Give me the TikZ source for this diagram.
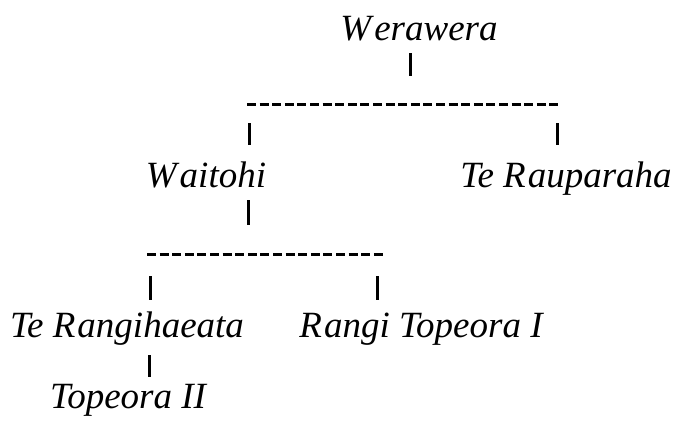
\documentclass[tikz,border=0pt]{standalone}
\usepackage{fontspec}
\setmainfont{Liberation Serif}[ItalicFont={Liberation Serif Italic}]
\newfontfamily\treefont{Liberation Serif Italic}
\begin{document}
\begin{tikzpicture}[x=1pt,y=-1pt,
  person/.style={anchor=base,inner sep=0pt,font=\treefont\fontsize{37}{40}\selectfont},
  tick/.style={line width=3pt},
  sibline/.style={line width=3pt,dash pattern=on 9pt off 3.6pt}]
\useasboundingbox (0,0) rectangle (680,421);
% people
\node[person] (wer) at (419,40) {W\kern3pt erawera};
\node[person] (wai) at (206,187) {W\kern3pt aitohi};
\node[person] (rau) at (566,187) {Te R\kern2pt auparaha};
\node[person] (ran) at (127,337) {Te R\kern2pt angihaeata};
\node[person] (rto) at (421,337) {R\kern2pt angi Topeora I};
\node[person] (top) at (128,408) {Topeora II};
% connector points
\coordinate (w0a) at (410,53);  \coordinate (w0b) at (410,76);
\coordinate (d1a) at (247,104); \coordinate (d1b) at (560,104);
\coordinate (c1a) at (249,123); \coordinate (c1b) at (249,145);
\coordinate (c2a) at (557,123); \coordinate (c2b) at (557,145);
\coordinate (w1a) at (248,200); \coordinate (w1b) at (248,225);
\coordinate (d2a) at (147,254); \coordinate (d2b) at (386,254);
\coordinate (c3a) at (150,276); \coordinate (c3b) at (150,300);
\coordinate (c4a) at (377,276); \coordinate (c4b) at (377,300);
\coordinate (r1a) at (149,355); \coordinate (r1b) at (149,377);
% ticks
\draw[tick] (w0a) -- (w0b);
\draw[tick] (c1a) -- (c1b);
\draw[tick] (c2a) -- (c2b);
\draw[tick] (w1a) -- (w1b);
\draw[tick] (c3a) -- (c3b);
\draw[tick] (c4a) -- (c4b);
\draw[tick] (r1a) -- (r1b);
% sibling lines
\draw[sibline] (d1a) -- (d1b);
\draw[sibline] (d2a) -- (d2b);
\end{tikzpicture}
\end{document}
